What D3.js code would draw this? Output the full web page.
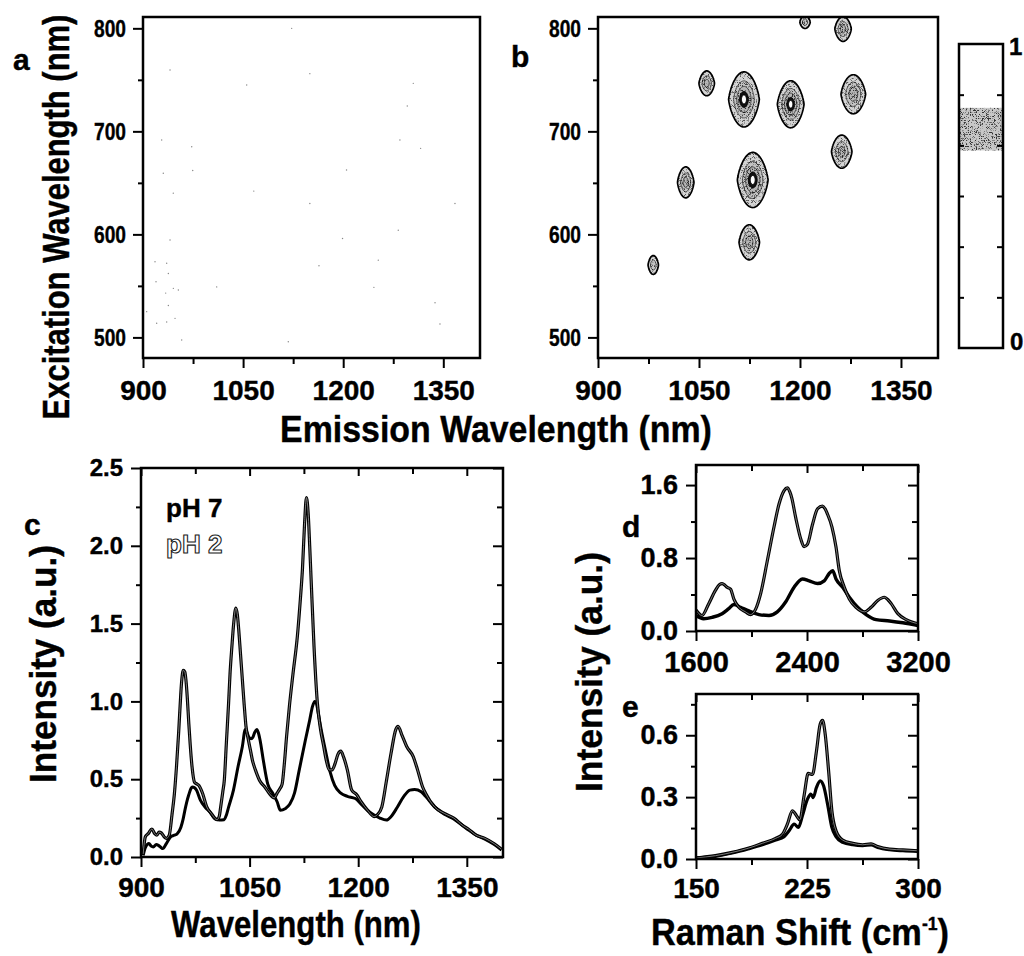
<!DOCTYPE html>
<html>
<head>
<meta charset="utf-8">
<script src="https://cdn.jsdelivr.net/npm/d3@7"></script>
<style>
  html, body { margin: 0; padding: 0; background: #fff; }
  svg { display: block; }
</style>
</head>
<body>
<script>
// ---------------- data ----------------
// Panel b: photoluminescence excitation spots (emission nm, excitation nm, relative intensity, widths)
const spotEm    = [1207.5, 1264, 1061.5, 1116.8, 1186.2, 1279.2, 1262, 1030.3, 1129.8, 1124.7, 982.1];
const spotEx    = [806, 799.4, 746.6, 731, 726.3, 736, 680.3, 650.5, 652.8, 592.3, 570.3];
const spotAmp   = [0.5, 0.7, 0.7, 1.0, 1.0, 0.75, 0.7, 0.7, 1.0, 0.75, 0.55];
const spotSigEm = [3.9, 5.7, 5.4, 9.9, 8.6, 8.4, 7.1, 5.7, 9.9, 7.0, 3.8];
const spotSigEx = [3.1, 5.6, 5.6, 11.6, 9.9, 8.7, 7.5, 7.0, 11.6, 7.8, 4.5];

// Panel a: faint isolated counts (emission nm, excitation nm)
const faintEm = [935.5, 938, 934, 945.5, 953, 938, 920.5, 935.5, 948, 958, 905.5, 919.5, 918, 940.5, 928, 930.4, 945.4,
                 1122.8, 1150, 1305, 1296, 1285, 1316, 1205, 1066, 1150, 1367.5, 1282.5, 1199, 1163.7, 1252.6, 1010.4,
                 1246, 1337.6, 1345, 1117.7, 1055.4, 973, 974.5, 940.5];
const faintEx = [572, 562, 543, 547.6, 546, 531, 513.7, 515, 518.5, 497.5, 525, 554, 573.5, 594.5, 691.6, 659.3, 640,
                 800, 756, 746.6, 724.6, 691.6, 683.5, 662.5, 642, 630, 630, 604, 596, 569.6, 575, 549,
                 548.6, 533.7, 513, 495.8, 745, 685, 662, 759.6];

// Panel c: emission spectra
const pH2Nm = [903,906,910,915,919,922,925,928,932,935,939,943,946,949,952,954,956,958.4,960.5,962,
  964,966,968,970.5,974,977,980,985,991,997,1005,1008,1010,1013,1015,1018,1021,1023,1025.5,1028,
  1031,1033,1035,1037.5,1040,1042.5,1045,1048,1051,1054,1058,1064,1071,1077,1084,1088,1092,1095,1098,1101,
  1105,1110,1116,1120,1123,1126,1128.5,1131,1133,1135,1139,1143.6,1148,1152,1156,1160,1164,1168,1172,1176,
  1180,1185,1191,1198,1204,1213,1222,1226,1232.5,1239,1245.5,1252,1255,1260.7,1267,1276,1282,1289,1293,1306,
  1319,1332,1345,1352,1363,1375,1388,1398];
const pH2Int = [0.02,0.13,0.15,0.18,0.15,0.14,0.16,0.155,0.13,0.12,0.14,0.28,0.40,0.58,0.80,0.97,1.12,1.2,1.19,1.14,
  1.02,0.86,0.72,0.58,0.48,0.47,0.46,0.41,0.32,0.28,0.24,0.26,0.32,0.42,0.49,0.74,0.99,1.18,1.35,1.50,
  1.6,1.56,1.46,1.30,1.14,0.98,0.84,0.76,0.69,0.62,0.56,0.49,0.45,0.41,0.38,0.41,0.44,0.47,0.60,0.77,
  0.97,1.18,1.42,1.65,1.85,2.15,2.31,2.2,2.0,1.78,1.35,0.99,0.82,0.72,0.62,0.56,0.56,0.60,0.66,0.68,
  0.64,0.56,0.43,0.40,0.355,0.30,0.26,0.27,0.32,0.49,0.67,0.82,0.84,0.78,0.71,0.645,0.56,0.45,0.41,0.32,
  0.28,0.25,0.20,0.18,0.14,0.12,0.085,0.05];
const pH7Nm = [903,906,911,914,917,921,924,928,930,935,941,946,950,955,958,960.6,963,966,969,971,
  974,976.6,982,988.7,995,1001.7,1008,1014.7,1018,1021,1027.7,1034,1040,1044,1046.5,1049,1052,1054.5,1057,1060,
  1062,1064.5,1069,1075,1082,1088,1092.6,1099,1105.6,1112,1118.6,1127,1133,1137,1140,1142,1145,1148,1154.5,1161,
  1167.5,1176,1185,1196,1204,1213,1222,1230,1239,1245.5,1254,1263,1271.5,1278,1287,1293,1306,1319,1332,1345,
  1352,1363,1375,1388,1398];
const pH7Int = [0.01,0.06,0.086,0.07,0.065,0.08,0.075,0.06,0.054,0.086,0.13,0.14,0.15,0.19,0.24,0.30,0.35,0.40,0.44,0.45,
  0.445,0.43,0.366,0.32,0.29,0.247,0.237,0.24,0.27,0.32,0.43,0.58,0.71,0.82,0.80,0.77,0.76,0.77,0.80,0.82,
  0.80,0.75,0.62,0.47,0.41,0.355,0.30,0.31,0.34,0.41,0.56,0.75,0.88,0.97,1.0,0.99,0.92,0.84,0.69,0.55,
  0.46,0.41,0.39,0.376,0.34,0.30,0.27,0.25,0.237,0.26,0.32,0.39,0.43,0.434,0.42,0.39,0.32,0.275,0.245,0.20,
  0.175,0.14,0.115,0.08,0.045];

// Panel d: Raman spectra, high-shift region
const dShiftHi = [1600,1643,1692,1740,1770,1788,1810,1824,1849,1873,1909,1957,1993,2030,2066,2114,2162,2198,2235,2259,
  2275,2290,2319,2355,2379,2403,2440,2476,2512,2530,2548,2580,2609,2633,2669,2705,2753,2814,2862,2910,2958,2985,3007,3055,3115,3200];
const dIntHi = [0.23,0.17,0.30,0.445,0.51,0.52,0.50,0.48,0.46,0.35,0.26,0.21,0.18,0.24,0.41,0.77,1.14,1.39,1.54,1.57,
  1.53,1.46,1.24,1.01,0.925,0.95,1.17,1.34,1.37,1.34,1.28,1.14,0.92,0.66,0.48,0.35,0.26,0.21,0.26,0.335,0.37,0.34,0.30,0.19,0.125,0.08];
const dShiftLo = [1600,1655,1716,1788,1836,1873,1921,1981,2054,2126,2186,2247,2307,2367,2416,2476,2524,2560,2585,2609,
  2657,2705,2765,2826,2898,2995,3091,3200];
const dIntLo = [0.17,0.135,0.15,0.19,0.245,0.29,0.26,0.22,0.18,0.17,0.21,0.32,0.48,0.57,0.55,0.52,0.55,0.63,0.66,0.57,
  0.48,0.37,0.26,0.18,0.125,0.11,0.09,0.06];

// Panel e: Raman spectra, radial breathing mode region
const eShiftHi = [150,163.1,174.4,185.7,194.8,203.8,208.4,211.8,215.1,217.9,220.1,223.1,225.8,228.7,231.4,233.9,235.5,237.3,
  239.6,241.8,244.6,249.1,255.9,262.6,268.3,272.8,280.7,289.8,300];
const eIntHi = [0.005,0.016,0.032,0.053,0.076,0.10,0.12,0.17,0.234,0.21,0.19,0.31,0.415,0.41,0.524,0.653,0.672,0.605,
  0.427,0.234,0.137,0.092,0.076,0.069,0.073,0.06,0.048,0.044,0.04];
const eShiftLo = [150,163.1,174.4,185.7,194.8,203.8,209.5,212.9,216.3,219.2,221.9,225.3,227.6,229.2,231.4,233.9,236.2,238.9,
  241.8,244.6,249.1,255.9,262.6,268.3,272.8,280.7,289.8,300];
const eIntLo = [0.005,0.013,0.029,0.05,0.069,0.092,0.108,0.137,0.169,0.153,0.21,0.29,0.315,0.298,0.347,0.379,0.355,0.266,
  0.153,0.108,0.081,0.069,0.065,0.068,0.056,0.045,0.04,0.037];

// Tick values
const mapEmTicks = [900, 1050, 1200, 1350];
const mapEmMinor = [975, 1125, 1275];
const mapExTicks = [500, 600, 700, 800];
const mapExMinor = [550, 650, 750];
const specNmTicks = [900, 1050, 1200, 1350];
const specNmMinor = [975, 1125, 1275];
const specIntTicks = [0, 0.5, 1.0, 1.5, 2.0, 2.5];
const specIntMinor = [0.25, 0.75, 1.25, 1.75, 2.25];
const dTicksX = [1600, 2400, 3200], dMinorX = [2000, 2800];
const dTicksY = [0, 0.8, 1.6], dMinorY = [0.4, 1.2];
const eTicksX = [150, 225, 300], eMinorX = [187.5, 262.5];
const eTicksY = [0, 0.3, 0.6], eMinorY = [0.15, 0.45, 0.75];
const barTicks = [1/6, 2/6, 3/6, 4/6, 5/6];
const barBand = [0.65, 0.79];
const contourLevels = [0.07, 0.3, 0.55, 0.8, 0.93];

// ---------------- drawing ----------------
const svg = d3.select('body').append('svg')
  .attr('width', 1024).attr('height', 956)
  .attr('font-family', "'Liberation Sans', Arial, Helvetica, sans-serif")
  .attr('font-weight', 'bold');
svg.append('rect').attr('width', 1024).attr('height', 956).attr('fill', '#fff');

// grainy halftone texture for the intensity map fills
const defs = svg.append('defs');
const speck = defs.append('filter').attr('id', 'speckle')
  .attr('x', 0).attr('y', 0).attr('width', '100%').attr('height', '100%');
speck.append('feTurbulence').attr('type', 'fractalNoise').attr('baseFrequency', 1.5)
  .attr('numOctaves', 1).attr('seed', 7).attr('result', 'noise');
speck.append('feColorMatrix').attr('in', 'noise').attr('type', 'matrix')
  .attr('values', '0 0 0 0 0  0 0 0 0 0  0 0 0 0 0  0 0 0 5 -2.5').attr('result', 'mask');
speck.append('feComposite').attr('in', 'SourceGraphic').attr('in2', 'mask').attr('operator', 'in');

function txt(parent, x, y, str, size, o = {}) {
  const g = parent.append('g')
    .attr('transform', `translate(${x},${y})` + (o.rotate ? ` rotate(${o.rotate})` : ''));
  const t = g.append('text').attr('text-anchor', o.anchor || 'middle').attr('font-size', size)
    .attr('stroke', o.stroke || '#000').attr('stroke-width', o.strokeWidth || 0.4);
  if (str !== null) t.text(str);
  if (o.fill) t.attr('fill', o.fill);
  if (o.build) o.build(t);
  if (o.width) {
    const w = t.node().getComputedTextLength();
    t.attr('transform', `scale(${o.width / w},1)`);
  }
  return t;
}

function styleAxis(g) {
  g.select('.domain').remove();
  g.selectAll('.tick line').attr('stroke', '#000').attr('stroke-width', 2);
  g.selectAll('.tick text').attr('fill', '#000').attr('stroke', '#000').attr('stroke-width', 0.4);
}

// frame + ticks for one panel
function axes(g, x, y, o) {
  const [x0, x1] = x.range(), [y0, y1] = y.range();
  const fx = o.xFmt || (d => d), fy = o.yFmt || (d => d);
  g.append('g').attr('transform', `translate(0,${y0})`)
    .call(d3.axisBottom(x).tickValues(o.xMajor).tickSize(10).tickSizeOuter(0).tickPadding(o.xPad).tickFormat(fx))
    .call(styleAxis).call(s => s.selectAll('text').attr('font-size', o.xFont));
  if (o.xMinor) g.append('g').attr('transform', `translate(0,${y0})`)
    .call(d3.axisBottom(x).tickValues(o.xMinor).tickSize(6).tickSizeOuter(0).tickFormat(''))
    .call(styleAxis);
  const ly = g.append('g').attr('transform', `translate(${x0},0)`)
    .call(d3.axisLeft(y).tickValues(o.yMajor).tickSize(10).tickSizeOuter(0).tickPadding(o.yPad).tickFormat(fy))
    .call(styleAxis).call(s => s.selectAll('text').attr('font-size', o.yFont));
  if (o.ySqueeze) ly.selectAll('text').each(function () {
    const w = this.getComputedTextLength();
    d3.select(this).attr('textLength', w * o.ySqueeze).attr('lengthAdjust', 'spacingAndGlyphs');
  });
  if (o.yMinor) g.append('g').attr('transform', `translate(${x0},0)`)
    .call(d3.axisLeft(y).tickValues(o.yMinor).tickSize(5).tickSizeOuter(0).tickFormat(''))
    .call(styleAxis);
  if (o.mirror) {
    g.append('g').attr('transform', `translate(${x1},0)`)
      .call(d3.axisLeft(y).tickValues(o.yMajor).tickSize(10).tickSizeOuter(0).tickFormat('')).call(styleAxis);
    if (o.yMinor) g.append('g').attr('transform', `translate(${x1},0)`)
      .call(d3.axisLeft(y).tickValues(o.yMinor).tickSize(6).tickSizeOuter(0).tickFormat('')).call(styleAxis);
    g.append('g').attr('transform', `translate(0,${y1})`)
      .call(d3.axisBottom(x).tickValues(o.xMajor).tickSize(8).tickSizeOuter(0).tickFormat('')).call(styleAxis);
    if (o.xMinor) g.append('g').attr('transform', `translate(0,${y1})`)
      .call(d3.axisBottom(x).tickValues(o.xMinor).tickSize(6).tickSizeOuter(0).tickFormat('')).call(styleAxis);
  }
  g.append('rect').attr('x', x0).attr('y', y1).attr('width', x1 - x0).attr('height', y0 - y1)
    .attr('fill', 'none').attr('stroke', '#000').attr('stroke-width', 2.5);
}

// ---- panels a and b: excitation-emission maps ----
const emA = d3.scaleLinear([900, 1405], [143, 480]);
const emB = d3.scaleLinear([900, 1405], [598, 938]);
const exMap = d3.scaleLinear([480, 811], [358, 17]);

const mapOpts = {
  xMajor: mapEmTicks, xMinor: mapEmMinor, yMajor: mapExTicks, yMinor: mapExMinor,
  xPad: 12, yPad: 7, xFont: 28, yFont: 24, ySqueeze: 0.8
};

// panel a
const gA = svg.append('g');
gA.selectAll('circle.faint').data(d3.range(faintEm.length)).join('circle')
  .attr('cx', i => emA(faintEm[i])).attr('cy', i => exMap(faintEx[i]))
  .attr('r', 0.7).attr('fill', '#888');
axes(gA, emA, exMap, mapOpts);

// panel b
const gB = svg.append('g');
defs.append('clipPath').attr('id', 'clipB').append('rect')
  .attr('x', 598).attr('y', 17).attr('width', 340).attr('height', 341);

const gridStep = 1;
const nx = Math.round((1405 - 900) / gridStep) + 1;
const ny = Math.round((811 - 480) / gridStep) + 1;
const field = new Float64Array(nx * ny);
for (let j = 0; j < ny; j++) {
  const ex = 480 + j * gridStep;
  for (let i = 0; i < nx; i++) {
    const em = 900 + i * gridStep;
    let v = 0;
    for (let k = 0; k < spotEm.length; k++) {
      const dy = (ex - spotEx[k]) / spotSigEx[k];
      // spots narrow slightly towards their top and bottom tips
      const dx = (em - spotEm[k]) / spotSigEm[k] * (1 + 0.1 * Math.abs(dy));
      const r2 = dx * dx + dy * dy;
      if (r2 < 30) v += spotAmp[k] * Math.exp(-0.5 * r2);
    }
    field[j * nx + i] = v;
  }
}
const contours = d3.contours().size([nx, ny]).thresholds(contourLevels)(field);
const gridProj = d3.geoTransform({
  point(px, py) {
    this.stream.point(emB(900 + (px - 0.5) * gridStep), exMap(480 + (py - 0.5) * gridStep));
  }
});
const contourPath = d3.geoPath(gridProj);
const lowBands = contours.slice(0, 3);
const highBands = contours.slice(3);
const gMap = gB.append('g').attr('clip-path', 'url(#clipB)');
// light base tone
gMap.append('g').selectAll('path').data(lowBands).join('path')
  .attr('d', contourPath).attr('fill', (d, i) => ['#d4d4d4', '#c4c4c4', '#b6b6b6'][i]);
// dark speckles on top of the base tone
gMap.append('g').attr('filter', 'url(#speckle)')
  .selectAll('path').data(lowBands).join('path')
  .attr('d', contourPath).attr('fill', (d, i) => ['#555', '#444', '#333'][i]);
// level outlines
gMap.append('g').selectAll('path').data(lowBands).join('path')
  .attr('d', contourPath).attr('fill', 'none').attr('stroke', '#000')
  .attr('stroke-width', (d, i) => [1.7, 0.6, 0.6][i]).attr('stroke-linejoin', 'round');
// dark core ring and bright centre
gMap.append('g').selectAll('path').data(highBands).join('path')
  .attr('d', contourPath).attr('fill', (d, i) => ['#111', '#fff'][i])
  .attr('stroke', '#000').attr('stroke-width', 1).attr('stroke-linejoin', 'round');
axes(gB, emB, exMap, mapOpts);

// colour bar
const barY = d3.scaleLinear([0, 1], [348, 44]);
const gBar = svg.append('g');
gBar.append('rect').attr('x', 959).attr('y', barY(1)).attr('width', 44).attr('height', barY(0) - barY(1)).attr('fill', '#fff');
gBar.append('rect').attr('x', 960).attr('y', barY(barBand[1])).attr('width', 42)
  .attr('height', barY(barBand[0]) - barY(barBand[1])).attr('fill', '#c8c8c8');
gBar.append('rect').attr('x', 960).attr('y', barY(barBand[1])).attr('width', 42)
  .attr('height', barY(barBand[0]) - barY(barBand[1])).attr('fill', '#333').attr('filter', 'url(#speckle)');
gBar.append('g').attr('transform', 'translate(959,0)')
  .call(d3.axisRight(barY).tickValues(barTicks).tickSize(5).tickSizeOuter(0).tickFormat('')).call(styleAxis);
gBar.append('g').attr('transform', 'translate(1003,0)')
  .call(d3.axisLeft(barY).tickValues(barTicks).tickSize(6).tickSizeOuter(0).tickFormat('')).call(styleAxis);
gBar.append('rect').attr('x', 959).attr('y', barY(1)).attr('width', 44).attr('height', barY(0) - barY(1))
  .attr('fill', 'none').attr('stroke', '#000').attr('stroke-width', 2.5);
txt(gBar, 1009, barY(1) + 11, '1', 24, { anchor: 'start' });
txt(gBar, 1010, barY(0) + 2, '0', 24, { anchor: 'start' });

// map labels
txt(svg, 13, 70, 'a', 30, { anchor: 'start' });
txt(svg, 511, 67, 'b', 30, { anchor: 'start' });
txt(svg, 69, 217, 'Excitation Wavelength (nm)', 37, { rotate: -90, width: 405 });
txt(svg, 496, 442, 'Emission Wavelength (nm)', 37, { width: 432 });

// ---- panel c: emission spectra ----
const xC = d3.scaleLinear([900, 1400], [141, 503]);
const yC = d3.scaleLinear([0, 2.5], [857, 468]);
const gC = svg.append('g');
const lineC = d3.line().curve(d3.curveMonotoneX);
const pH2Path = lineC(pH2Nm.map((v, i) => [xC(v), yC(pH2Int[i])]));
const pH7Path = lineC(pH7Nm.map((v, i) => [xC(v), yC(pH7Int[i])]));
gC.append('path').attr('d', pH7Path).attr('fill', 'none').attr('stroke', '#000').attr('stroke-width', 3);
gC.append('path').attr('d', pH2Path).attr('fill', 'none').attr('stroke', '#000').attr('stroke-width', 3.2);
gC.append('path').attr('d', pH2Path).attr('fill', 'none').attr('stroke', '#9a9a9a').attr('stroke-width', 0.8);
axes(gC, xC, yC, {
  xMajor: specNmTicks, xMinor: specNmMinor, yMajor: specIntTicks, yMinor: specIntMinor,
  xPad: 10, yPad: 8, xFont: 28, yFont: 24, yFmt: d3.format('.1f'), mirror: true
});
txt(svg, 24, 535, 'c', 30, { anchor: 'start' });
txt(svg, 166, 517, 'pH 7', 26, { anchor: 'start' });
txt(svg, 166, 553, 'pH 2', 26, { anchor: 'start', fill: '#fff', stroke: '#222', strokeWidth: 1.1 });
txt(svg, 56, 664, 'Intensity (a.u.)', 37, { rotate: -90, width: 238 });
txt(svg, 296, 937, 'Wavelength (nm)', 37, { width: 250 });

// ---- panel d ----
const xD = d3.scaleLinear([1600, 3200], [696, 918]);
const yD = d3.scaleLinear([0, 1.82], [631, 465]);
const gD = svg.append('g');
const lineD = d3.line().curve(d3.curveMonotoneX);
const dHiPath = lineD(dShiftHi.map((v, i) => [xD(v), yD(dIntHi[i])]));
const dLoPath = lineD(dShiftLo.map((v, i) => [xD(v), yD(dIntLo[i])]));
gD.append('path').attr('d', dLoPath).attr('fill', 'none').attr('stroke', '#000').attr('stroke-width', 3.4);
gD.append('path').attr('d', dHiPath).attr('fill', 'none').attr('stroke', '#000').attr('stroke-width', 3.2);
gD.append('path').attr('d', dHiPath).attr('fill', 'none').attr('stroke', '#9a9a9a').attr('stroke-width', 0.8);
axes(gD, xD, yD, {
  xMajor: dTicksX, xMinor: dMinorX, yMajor: dTicksY, yMinor: dMinorY,
  xPad: 10, yPad: 8, xFont: 29, yFont: 27, yFmt: d3.format('.1f'), mirror: true
});
txt(svg, 622, 537, 'd', 30, { anchor: 'start' });

// ---- panel e ----
const xE = d3.scaleLinear([150, 300], [696, 918]);
const yE = d3.scaleLinear([0, 0.8], [859, 694]);
const gE = svg.append('g');
const lineE = d3.line().curve(d3.curveMonotoneX);
const eHiPath = lineE(eShiftHi.map((v, i) => [xE(v), yE(eIntHi[i])]));
const eLoPath = lineE(eShiftLo.map((v, i) => [xE(v), yE(eIntLo[i])]));
gE.append('path').attr('d', eLoPath).attr('fill', 'none').attr('stroke', '#000').attr('stroke-width', 3.2);
gE.append('path').attr('d', eHiPath).attr('fill', 'none').attr('stroke', '#000').attr('stroke-width', 3.2);
gE.append('path').attr('d', eHiPath).attr('fill', 'none').attr('stroke', '#9a9a9a').attr('stroke-width', 0.8);
axes(gE, xE, yE, {
  xMajor: eTicksX, xMinor: eMinorX, yMajor: eTicksY, yMinor: eMinorY,
  xPad: 9, yPad: 8, xFont: 28, yFont: 27, yFmt: d3.format('.1f'), mirror: true
});
txt(svg, 622, 717, 'e', 30, { anchor: 'start' });

// shared labels for d and e
txt(svg, 602, 672, 'Intensity (a.u.)', 37, { rotate: -90, width: 240 });
txt(svg, 800, 945, null, 37, {
  width: 298,
  build: t => {
    t.append('tspan').text('Raman Shift (cm');
    t.append('tspan').attr('font-size', 19).attr('dy', -15).text('-1');
    t.append('tspan').attr('dy', 15).text(')');
  }
});
</script>
</body>
</html>
